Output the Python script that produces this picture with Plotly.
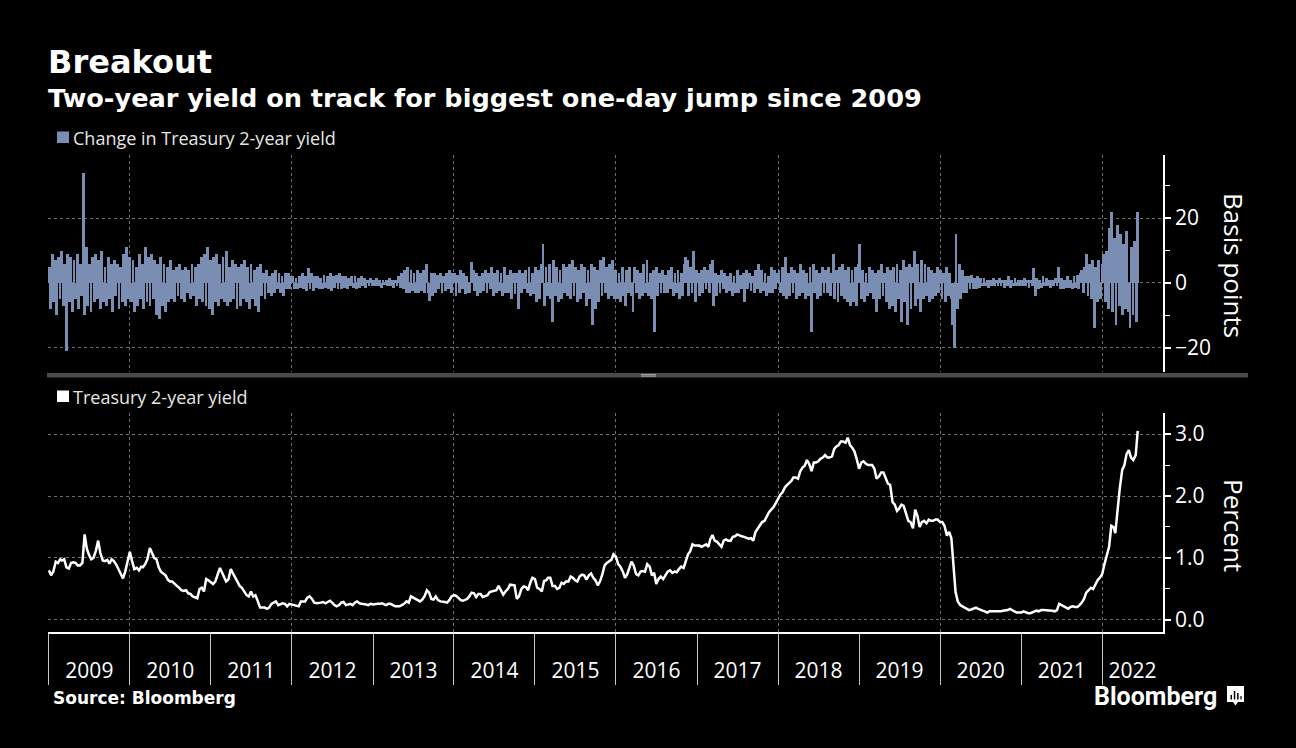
import pandas as pd
import plotly.graph_objects as go

# ---------------- data ----------------
# Treasury 2-year yield (percent), read on the 1st, 11th and 21st of each month
y2009 = [0.80, 0.72, 0.78, 0.94, 0.92, 0.98, 0.96, 0.98, 0.85, 0.83, 0.92, 0.93,
         0.92, 0.88, 0.88, 0.92, 1.38, 1.15, 1.05, 0.98, 1.00, 1.12, 1.28, 1.08,
         0.96, 0.95, 0.97, 0.91, 0.98, 0.95, 0.89, 0.82, 0.74, 0.67, 0.78, 0.95]
y2010 = [1.10, 0.95, 0.82, 0.84, 0.80, 0.86, 0.85, 0.90, 0.98, 1.16, 1.08, 1.00,
         0.98, 0.85, 0.78, 0.75, 0.72, 0.65, 0.62, 0.62, 0.58, 0.55, 0.52, 0.48,
         0.47, 0.48, 0.43, 0.42, 0.38, 0.36, 0.35, 0.50, 0.52, 0.46, 0.66, 0.64]
y2011 = [0.60, 0.58, 0.62, 0.72, 0.84, 0.76, 0.69, 0.62, 0.65, 0.82, 0.75, 0.68,
         0.60, 0.55, 0.52, 0.45, 0.40, 0.38, 0.46, 0.38, 0.40, 0.30, 0.20, 0.20,
         0.20, 0.18, 0.20, 0.26, 0.28, 0.30, 0.24, 0.26, 0.27, 0.26, 0.22, 0.26]
y2012 = [0.25, 0.24, 0.24, 0.22, 0.30, 0.30, 0.30, 0.36, 0.38, 0.34, 0.28, 0.27,
         0.27, 0.28, 0.29, 0.27, 0.29, 0.31, 0.28, 0.24, 0.22, 0.24, 0.28, 0.29,
         0.24, 0.25, 0.26, 0.24, 0.28, 0.30, 0.27, 0.26, 0.26, 0.25, 0.24, 0.26]
y2013 = [0.25, 0.26, 0.26, 0.26, 0.27, 0.25, 0.24, 0.26, 0.26, 0.24, 0.22, 0.22,
         0.22, 0.24, 0.26, 0.30, 0.28, 0.38, 0.36, 0.33, 0.32, 0.30, 0.33, 0.38,
         0.48, 0.44, 0.34, 0.33, 0.38, 0.32, 0.30, 0.30, 0.29, 0.28, 0.32, 0.38]
y2014 = [0.40, 0.39, 0.36, 0.32, 0.31, 0.32, 0.34, 0.38, 0.44, 0.43, 0.37, 0.42,
         0.42, 0.37, 0.38, 0.40, 0.45, 0.46, 0.47, 0.48, 0.55, 0.47, 0.41, 0.46,
         0.50, 0.57, 0.56, 0.56, 0.34, 0.38, 0.50, 0.54, 0.53, 0.48, 0.60, 0.68]
y2015 = [0.66, 0.52, 0.50, 0.46, 0.63, 0.64, 0.68, 0.68, 0.55, 0.55, 0.50, 0.52,
         0.60, 0.58, 0.62, 0.62, 0.70, 0.68, 0.64, 0.62, 0.70, 0.73, 0.72, 0.65,
         0.72, 0.75, 0.68, 0.64, 0.56, 0.62, 0.74, 0.88, 0.92, 0.94, 0.97, 1.06]
y2016 = [1.02, 0.90, 0.86, 0.78, 0.68, 0.74, 0.84, 0.94, 0.88, 0.74, 0.72, 0.78,
         0.79, 0.78, 0.90, 0.86, 0.72, 0.76, 0.58, 0.66, 0.70, 0.66, 0.72, 0.78,
         0.80, 0.76, 0.78, 0.77, 0.82, 0.86, 0.84, 0.96, 1.06, 1.11, 1.22, 1.20]
y2017 = [1.20, 1.20, 1.18, 1.20, 1.22, 1.18, 1.30, 1.37, 1.28, 1.26, 1.22, 1.18,
         1.28, 1.30, 1.28, 1.28, 1.34, 1.35, 1.38, 1.36, 1.35, 1.34, 1.32, 1.31,
         1.32, 1.28, 1.42, 1.48, 1.52, 1.58, 1.60, 1.68, 1.74, 1.78, 1.82, 1.88]
y2018 = [1.96, 2.02, 2.06, 2.14, 2.18, 2.22, 2.24, 2.30, 2.30, 2.28, 2.40, 2.46,
         2.49, 2.58, 2.52, 2.40, 2.54, 2.54, 2.56, 2.60, 2.62, 2.66, 2.62, 2.62,
         2.64, 2.76, 2.80, 2.82, 2.88, 2.88, 2.86, 2.94, 2.82, 2.78, 2.72, 2.60]
y2019 = [2.44, 2.54, 2.56, 2.52, 2.50, 2.50, 2.50, 2.44, 2.28, 2.32, 2.38, 2.38,
         2.28, 2.20, 2.18, 1.90, 1.86, 1.76, 1.80, 1.86, 1.84, 1.72, 1.60, 1.58,
         1.48, 1.78, 1.68, 1.50, 1.58, 1.60, 1.56, 1.62, 1.60, 1.60, 1.62, 1.62]
y2020 = [1.58, 1.58, 1.52, 1.36, 1.42, 1.32, 0.84, 0.45, 0.30, 0.24, 0.22, 0.20,
         0.18, 0.16, 0.17, 0.18, 0.20, 0.18, 0.16, 0.15, 0.14, 0.12, 0.14, 0.14,
         0.13, 0.14, 0.14, 0.14, 0.15, 0.15, 0.16, 0.18, 0.16, 0.15, 0.12, 0.12]
y2021 = [0.12, 0.14, 0.12, 0.11, 0.11, 0.12, 0.14, 0.15, 0.14, 0.16, 0.16, 0.16,
         0.16, 0.15, 0.15, 0.14, 0.16, 0.26, 0.24, 0.22, 0.20, 0.18, 0.21, 0.22,
         0.21, 0.21, 0.24, 0.28, 0.34, 0.44, 0.48, 0.52, 0.50, 0.58, 0.64, 0.68]
y2022 = [0.74, 0.90, 1.02, 1.18, 1.52, 1.50, 1.40, 1.80, 2.12, 2.42, 2.50, 2.68,
         2.74, 2.62, 2.58, 2.66]
yield_last_date = "2022-06-10"
yield_last_value = 3.05

# Change in Treasury 2-year yield (basis points), one bar per week (Fridays)
chg2009 = [5, -8, 9, -6, 7, -10, 8, -5, 10, -7, 6, -21, 9, -6, 8, -9, 7, -5, 9, -8,
           6, -4, 34, -10, 11, -7, 6, -9, 8, -6, 9, -5, 7, -8, 10, -6, 5, -7, 8, -5,
           6, -9, 7, -4, 6, -8, 5, -6, 9, -7, 11, -5]
chg2010 = [8, -6, 7, -9, 5, -7, 9, -5, 6, -8, 11, -6, 8, -7, 9, -5, 7, -10, 6, -11,
           8, -7, 6, -9, 5, -6, 7, -5, 4, -6, 5, -4, 6, -5, 4, -6, 5, -3, 4, -5,
           6, -4, 5, -7, 6, -5, 8, -6, 9, -7, 11, -8, 7]
chg2011 = [-10, 8, -6, 9, -7, 6, -5, 8, -6, 10, -7, 5, -6, 7, -5, 6, -8, 5, -7, 6,
           -5, 7, -6, 5, -8, 6, -5, 4, -7, 5, -9, 6, -4, 3, -5, 4, -3, 2, -4, 3,
           -3, 4, -2, 3, -3, 2, -4, 3, -2, 3, -2, 2]
chg2012 = [2, -2, 1.5, -2, 2, -1.5, 3, -2, 2, -2.5, 4.5, -2, 3, -2.5, 2, -1.5, 2, -2, 1.5, -2,
           2.5, -1.5, 2, -2, 3, -2.5, 2, -1.5, 2.5, -2, 3, -2, 2, -1.5, 2, -2, 1.5, -1, 2, -1.5,
           2, -2, 1.5, -1.5, 2, -1, 1.5, -1.5, 1, -1, 1.5, -1]
chg2013 = [1, -1, 1.5, -1, 1, -1.5, 1, -0.5, 1, -1, 1.5, -1, 1, -1.5, 1, -1, 2, -1.5, 3, -2,
           4, -3, 5, -3, 4, -2.5, 3, -3, 4, -3, 3, -2.5, 4, -3, 6, -3, -5.5, 3, -4, 3,
           -3, 2.5, -2, 3, -3, 2, -2.5, 3, -2, 4, -3, 3]
chg2014 = [3, -4, 2.5, -3, 4, -2, 3, -3.5, 2, -3, -3, 6.5, 4, -2.5, 3, -4, 2, -3, 3, -2.5,
           4, -3, 3, -2, 5, -4, 3, -3, 4, -2.5, 3, -4, 5, -3, 2.5, -3, 4, -5, 3, -3.5,
           3, -8, 4, -3, 3, -2, 4, -3, 5, -4, 3, -3.5]
chg2015 = [5, -6, 4, -5, 6, 12, -7, 5, -4, 6, -5, -12, 7, -4, 5, -6, 4, -5, 6, -3,
           5, -4, 6, -5, 7, -4, 5, -6, 4, -5, 6, -3, 5, -7, 4, -5, 6, -13, 5, -8,
           4, -6, 7, -4, 8, -3, 5, -5, 6, -4, 7, -5]
chg2016 = [4, -5, 3, -6, 5, -4, -7, 4, -3, 5, -4, -9, 5, -3, 4, -5, 3, -4, 6, -3,
           7, -4, 3, -5, 4, -15, 5, -4, 3, -3, 4, -3, 2.5, -3, 4, -2, 5, -4, 3, -3,
           4, -5, 3, -4, 6, 8, 7, -4, 5, -3, 10, -6, 4]
chg2017 = [3, -4, 4, -3, 5, -2, 4, -3, 6, 7, -7, 3, -4, 2.5, -3, 4, -2, 3, -3, 2,
           -2.5, 3, -4, 2, -3, 4, -3, 2.5, -2, 3, -6, 4, -2, 3, -2.5, 2, -3, 4, -2, 6,
           -3, 4, -2.5, 3, -4, 2, -3, 5, -3, 4, -2, 3]
chg2018 = [4, -3, 5, -4, 8, -5, 3, -4, 5, -3, 4, -5, 3, -4, 6, -3, 4, -5, 3, -4,
           5, -15, 6, -3, 4, -5, 3, -4, 5, -3, 4, -3, 5, -4, 3, 9, -5, 4, -6, 5,
           -4, 6, -5, 4, -6, 5, -7, 4, -6, 5, -7, 6]
chg2019 = [12, -5, 4, -6, 3, -4, 5, -3, 4, -5, 3, -9, 4, -5, 6, -4, 3, -6, 5, -8,
           4, -7, 5, -9, 6, -5, 4, -12, 7, -6, 5, -13, 6, -8, 5, 10, -7, 6, -5, -9,
           7, -5, 6, -4, 5, -6, 4, -5, 3, -4, 5, -3]
chg2020 = [4, -5, 3, -6, 5, -4, 3, -5, -13, -20, 15, -8, 6, -5, 4, -3, 2, -3, 2, -2,
           2.5, -2, 1.5, -2, 2, -1.5, 1.5, -1, 1.5, -1, 1, -1.5, 1, -1, 1.5, -1, 1, -1, 1.5, -1,
           1, -1.5, 1, -1, 2, -1.5, 1, -1, 1.5, -1, 1, -1]
chg2021 = [1, -1, 1.5, -1, 1, -1.5, 1, -1, 4.5, -4, 1.5, -2, 1, -1.5, 2, -1, 1.5, -1, 1, -1.5,
           1, -1, 1.5, -1, 5, -2, 1.5, -2, 1, -1.5, 2, -1.5, 1, -2, 2, -1.5, 2.5, -2, 3, 4,
           -3, 5, 9, -4, 6, -5, 7, -14, 5, -6, 7, -5, 6]
chg2022 = [9, -6, 10, -8, 17, 22, -9, 14, -13, 18, -7, 15, -10, 12, -8, 16, -9, -14, 11, -10,
           13, -12, 22]

years = list(range(2009, 2023))
year_labels = [str(y) for y in years]
yield_lists = [y2009, y2010, y2011, y2012, y2013, y2014, y2015, y2016, y2017,
               y2018, y2019, y2020, y2021, y2022]
chg_lists = [chg2009, chg2010, chg2011, chg2012, chg2013, chg2014, chg2015, chg2016,
             chg2017, chg2018, chg2019, chg2020, chg2021, chg2022]

# ---------------- build series ----------------
yield_dates, yield_values = [], []
for yr, vals in zip(years, yield_lists):
    days = [pd.Timestamp(yr, m, d) for m in range(1, 13) for d in (1, 11, 21)]
    yield_dates += days[:len(vals)]
    yield_values += vals[:len(days)]
yield_dates.append(pd.Timestamp(yield_last_date))
yield_values.append(yield_last_value)

chg_dates, chg_values = [], []
for yr, vals in zip(years, chg_lists):
    end = f"{yr}-12-31" if yr < 2022 else yield_last_date
    fr = list(pd.date_range(f"{yr}-01-01", end, freq="W-FRI"))
    n = min(len(fr), len(vals))
    chg_dates += fr[:n]
    chg_values += vals[:n]

X0 = pd.Timestamp("2008-12-28")
X1 = pd.Timestamp("2022-10-02")
label_pos = []
for yr in years:
    s = max(pd.Timestamp(yr, 1, 1), X0)
    e = min(pd.Timestamp(yr + 1, 1, 1), X1)
    label_pos.append(s + (e - s) / 2)

# ---------------- styling ----------------
W, H = 1296, 748
def px(x):
    return x / W
def py(y):
    return 1 - y / H

BG = "black"
BAR_COLOR = "#7a8eb4"
GRID = "#6e6e6e"
SEP = "#c8c8c8"
FONT = "Open Sans"
BOLD = "DejaVu Sans"

fig = go.Figure()
fig.add_trace(go.Bar(x=chg_dates, y=chg_values, xaxis="x", yaxis="y",
                     marker=dict(color=BAR_COLOR, line=dict(width=0)),
                     width=13 * 86400000, showlegend=False,
                     name="Change in Treasury 2-year yield"))
fig.add_trace(go.Scatter(x=yield_dates, y=yield_values, xaxis="x2", yaxis="y2",
                         mode="lines", line=dict(color="white", width=2.5),
                         showlegend=False, name="Treasury 2-year yield"))
fig.add_trace(go.Scatter(x=[label_pos[0]], y=[0], xaxis="x3", yaxis="y2",
                         mode="markers", marker=dict(opacity=0),
                         showlegend=False, hoverinfo="skip"))

xdom = [px(48), px(1163)]
tickfont = dict(family=FONT, size=21, color="white")

fig.update_layout(
    width=W, height=H, autosize=False,
    margin=dict(l=0, r=0, t=0, b=0),
    paper_bgcolor=BG, plot_bgcolor=BG,
    hovermode=False, bargap=0,
    xaxis=dict(domain=xdom, anchor="y", type="date", range=[X0, X1],
               showgrid=True, gridcolor=GRID, griddash="dot", gridwidth=1,
               dtick="M24", tick0="2010-01-01", ticks="", showticklabels=False,
               showline=False, zeroline=False),
    xaxis2=dict(domain=xdom, anchor="y2", type="date", range=[X0, X1],
                showgrid=True, gridcolor=GRID, griddash="dot", gridwidth=1,
                dtick="M24", tick0="2010-01-01", ticks="outside", ticklen=51,
                tickwidth=1, tickcolor=SEP, showticklabels=False,
                showline=True, linecolor="white", linewidth=1.5, zeroline=False,
                minor=dict(dtick="M12", tick0="2010-01-01", ticks="outside",
                           ticklen=51, tickwidth=1, tickcolor=SEP, showgrid=False)),
    xaxis3=dict(overlaying="x2", anchor="y2", type="date", range=[X0, X1],
                tickmode="array", tickvals=label_pos, ticktext=year_labels,
                ticks="outside", ticklen=20, tickcolor="rgba(0,0,0,0)",
                showgrid=False, showline=False, zeroline=False, tickfont=tickfont),
    yaxis=dict(domain=[py(372), py(155)], anchor="x", side="right",
               range=[-27.4, 39.4], tickmode="linear", tick0=0, dtick=20,
               showgrid=True, gridcolor=GRID, griddash="dot", gridwidth=1,
               zeroline=False, showline=True, linecolor="white", linewidth=1.5,
               ticks="outside", ticklen=6, tickwidth=2, tickcolor="white",
               tickfont=tickfont,
               minor=dict(dtick=10, tick0=0, ticks="outside", ticklen=5,
                          tickwidth=1, tickcolor="white", showgrid=False)),
    yaxis2=dict(domain=[py(632), py(413)], anchor="x2", side="right",
                range=[-0.194, 3.339], tickmode="linear", tick0=0, dtick=1,
                tickformat=".1f",
                showgrid=True, gridcolor=GRID, griddash="dot", gridwidth=1,
                zeroline=False, showline=True, linecolor="white", linewidth=1.5,
                ticks="outside", ticklen=6, tickwidth=2, tickcolor="white",
                tickfont=tickfont,
                minor=dict(dtick=0.5, tick0=0, ticks="outside", ticklen=5,
                           tickwidth=1, tickcolor="white", showgrid=False)),
)

def note(text, x, y, size, family=FONT, color="white", xanchor="left", angle=0):
    fig.add_annotation(text=text, x=px(x), y=py(y), xref="paper", yref="paper",
                       xanchor=xanchor, yanchor="middle", showarrow=False,
                       textangle=angle, font=dict(family=family, size=size, color=color))

note("<b>Breakout</b>", 46, 62, 32, family=BOLD)
note("<b>Two-year yield on track for biggest one-day jump since 2009</b>", 46, 98, 25.6, family=BOLD)
note("Change in Treasury 2-year yield", 71, 138, 18, color="#e6e6e6")
note("Treasury 2-year yield", 71, 397, 18, color="#e6e6e6")
note("Basis points", 1234, 265, 26, xanchor="center", angle=90)
note("Percent", 1234, 525, 26, xanchor="center", angle=90)
note("<b>Source: Bloomberg</b>", 51, 698, 17, family=BOLD)
note("<b>Bloomberg</b>", 1219, 696, 25, family="Roboto", xanchor="right")

def rect(x0, y0, x1, y1, color):
    fig.add_shape(type="rect", xref="paper", yref="paper",
                  x0=px(x0), x1=px(x1), y0=py(y1), y1=py(y0),
                  fillcolor=color, line=dict(width=0), layer="above")

# legend squares
rect(57, 131.5, 69, 143, BAR_COLOR)
rect(57, 390.5, 69, 402, "white")
# divider between panels
rect(47, 373, 1248, 377.5, "#4a4a4a")
rect(641, 374, 656, 376.8, "#9a9a9a")
rect(641, 375.2, 656, 375.7, "#5a5a5a")
# Bloomberg icon
rect(1227, 686, 1244, 702, "white")
rect(1230.5, 695, 1232, 699.5, "black")
rect(1233.8, 691, 1235.3, 699.5, "black")
rect(1237.1, 693, 1238.6, 699.5, "black")
rect(1240.4, 696, 1241.6, 699.5, "black")
fig.add_shape(type="path", xref="paper", yref="paper",
              path=f"M {px(1233)} {py(702)} L {px(1238)} {py(702)} L {px(1235.5)} {py(705.5)} Z",
              fillcolor="white", line=dict(width=0), layer="above")

fig.write_html("out.html",
               config={"displayModeBar": False},
               post_script="document.body.style.margin='0px';"
                           "document.body.style.background='black';"
                           "document.body.style.overflow='hidden';")
